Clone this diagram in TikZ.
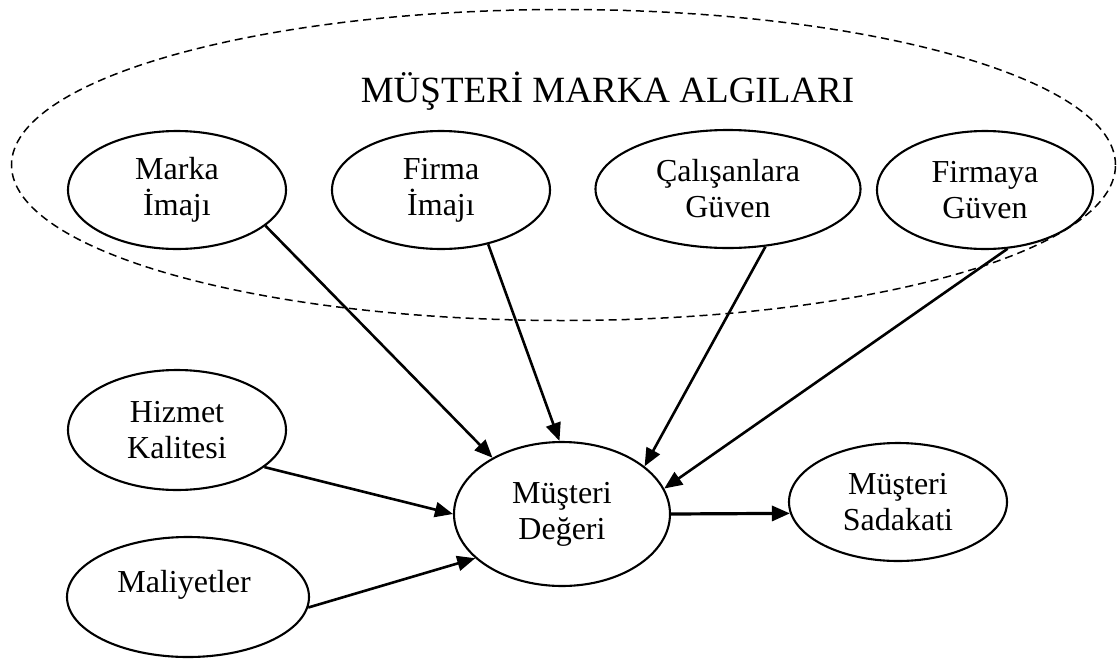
\documentclass[tikz,border=0pt]{standalone}
\usepackage{fontspec}
\setmainfont{Liberation Serif}
\usetikzlibrary{shapes.geometric,arrows.meta}
\begin{document}
\begin{tikzpicture}[x=1pt,y=-1pt,
  concept/.style={draw,ellipse,line width=2.1pt,inner sep=0pt,align=center,
    font=\fontsize{32}{36}\selectfont},
  label text/.style={inner sep=0pt,align=center,font=\fontsize{32}{36}\selectfont},
  link/.style={line width=2.6pt,-{Triangle[length=18pt,width=15pt]}},
  group/.style={draw,ellipse,line width=1.5pt,dash pattern=on 8pt off 5pt,inner sep=0pt}
]
\useasboundingbox (0,0) rectangle (1117,662);

% perception group
\node[group,minimum width=1104pt,minimum height=311pt] (algilar) at (563.5,165) {};
\node[anchor=base,inner sep=0pt,font=\fontsize{37}{40}\selectfont] (baslik) at (607.5,102) {MÜŞTERİ MARKA ALGILARI};

% concepts
\node[concept,minimum width=218pt,minimum height=118pt] (marka) at (177,190) {Marka\\İmajı};
\node[concept,minimum width=218pt,minimum height=118pt] (firma) at (441,190) {Firma\\İmajı};
\node[concept,minimum width=265pt,minimum height=118pt] (calisan) at (728,189) {Çalışanlara\\Güven};
\node[concept,minimum width=216pt,minimum height=118pt] (firmaya) at (985,190) {Firmaya\\Güven};
\node[concept,minimum width=218pt,minimum height=120pt] (hizmet) at (177,430) {Hizmet\\Kalitesi};
\node[concept,minimum width=242pt,minimum height=120pt] (maliyet) at (188,597) {};
\node[label text] (maliyettext) at (184,585) {Maliyetler};
\node[concept,minimum width=216pt,minimum height=144pt] (deger) at (562,514) {Müşteri\\Değeri};
\node[concept,minimum width=218pt,minimum height=118pt] (sadakat) at (898,502) {Müşteri\\Sadakati};

% influences
\draw[link] (marka.-22.7) -- (deger.141.1);
\draw[link] (firma.-49.7) -- (deger.92.3);
\draw[link] (calisan.-57.9) -- (deger.30.2);
\draw[link] (firmaya.-69.6) -- (deger.14.3);
\draw[link] (hizmet.-23.2) -- (deger.180);
\draw[link] (maliyet.-5.2) -- (deger.207.9);
\draw[link,line width=3.2pt] (deger.0) -- (sadakat.186.4);
\end{tikzpicture}
\end{document}
